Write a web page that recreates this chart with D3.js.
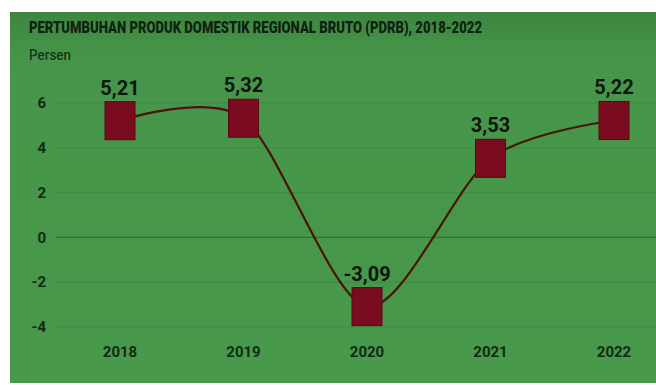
<!DOCTYPE html>
<html>
<head>
<meta charset="utf-8">
<script src="https://cdn.jsdelivr.net/npm/d3@7"></script>
<style>
  html, body { margin: 0; padding: 0; background: #fff; }
  svg { display: block; }
</style>
</head>
<body>
<div id="chart"></div>
<script>
// PDRB growth, 2018-2022
const years = ['2018', '2019', '2020', '2021', '2022'];
const growth = [5.21, 5.32, -3.09, 3.53, 5.22];
const valueLabels = ['5,21', '5,32', '-3,09', '3,53', '5,22'];
const yTicks = [-4, -2, 0, 2, 4, 6];

const W = 656, H = 385;

const svg = d3.select('#chart').append('svg')
    .attr('width', W)
    .attr('height', H);

// green panel, slightly darker along the top edge
const defs = svg.append('defs');
const grad = defs.append('linearGradient')
    .attr('id', 'bg')
    .attr('x1', 0).attr('y1', 0).attr('x2', 0).attr('y2', 1);
grad.append('stop').attr('offset', '0%').attr('stop-color', '#3d8640');
grad.append('stop').attr('offset', '12%').attr('stop-color', '#46954a');
grad.append('stop').attr('offset', '100%').attr('stop-color', '#48994b');

svg.append('rect')
    .attr('x', 10).attr('y', 12)
    .attr('width', W - 10).attr('height', H - 14)
    .attr('fill', 'url(#bg)');

// scales
const x = d3.scalePoint()
    .domain(years)
    .range([120, 614]);

const y = d3.scaleLinear()
    .domain([-4, 6])
    .range([327, 103]);

// gridlines
svg.append('g')
    .selectAll('line')
    .data(yTicks)
    .enter()
    .append('line')
    .attr('x1', 56)
    .attr('x2', W)
    .attr('y1', d => y(d))
    .attr('y2', d => y(d))
    .attr('stroke', d => d === 0 ? '#30703a' : '#408a44')
    .attr('stroke-width', d => d === 0 ? 1.3 : 1);

// y tick labels
svg.append('g')
    .selectAll('text')
    .data(yTicks)
    .enter()
    .append('text')
    .attr('x', 46)
    .attr('y', d => y(d))
    .attr('dy', '.35em')
    .attr('text-anchor', 'end')
    .style('font-family', 'Roboto, sans-serif')
    .style('font-size', '15px')
    .style('font-weight', '700')
    .style('fill', '#122a15')
    .text(d => d);

// x labels
svg.append('g')
    .selectAll('text')
    .data(years)
    .enter()
    .append('text')
    .attr('x', d => x(d))
    .attr('y', 357)
    .attr('text-anchor', 'middle')
    .style('font-family', 'Roboto, sans-serif')
    .style('font-size', '15px')
    .style('font-weight', '700')
    .style('fill', '#122a15')
    .text(d => d);

// title and unit
svg.append('text')
    .attr('x', 29)
    .attr('y', 33)
    .attr('textLength', 453)
    .attr('lengthAdjust', 'spacingAndGlyphs')
    .style('font-family', 'Roboto, sans-serif')
    .style('font-size', '17px')
    .style('font-weight', '900')
    .style('fill', '#0f220f')
    .text('PERTUMBUHAN PRODUK DOMESTIK REGIONAL BRUTO (PDRB), 2018-2022');

svg.append('text')
    .attr('x', 29)
    .attr('y', 60)
    .attr('textLength', 42)
    .attr('lengthAdjust', 'spacingAndGlyphs')
    .style('font-family', 'Roboto, sans-serif')
    .style('font-size', '15px')
    .style('font-weight', '500')
    .style('fill', '#1a361b')
    .text('Persen');

// smooth line through the points
const pts = years.map((yr, i) => [x(yr), y(growth[i])]);
const line = d3.line().curve(d3.curveCardinal.tension(0.15));

svg.append('path')
    .attr('d', line(pts))
    .attr('fill', 'none')
    .attr('stroke', '#4a140c')
    .attr('stroke-width', 2.2);

// square markers
const markW = 30, markH = 38;
svg.append('g')
    .selectAll('rect')
    .data(years)
    .enter()
    .append('rect')
    .attr('x', d => x(d) - markW / 2)
    .attr('y', (d, i) => y(growth[i]) - markH / 2)
    .attr('width', markW)
    .attr('height', markH)
    .attr('fill', '#7b0b1f')
    .attr('stroke', '#5a0814')
    .attr('stroke-width', 1);

// value labels above markers
svg.append('g')
    .selectAll('text')
    .data(years)
    .enter()
    .append('text')
    .attr('x', d => x(d))
    .attr('y', (d, i) => y(growth[i]) - markH / 2 - 7)
    .attr('text-anchor', 'middle')
    .style('font-family', 'Roboto, sans-serif')
    .style('font-size', '20px')
    .style('font-weight', '700')
    .style('fill', '#0c160c')
    .text((d, i) => valueLabels[i]);
</script>
</body>
</html>
